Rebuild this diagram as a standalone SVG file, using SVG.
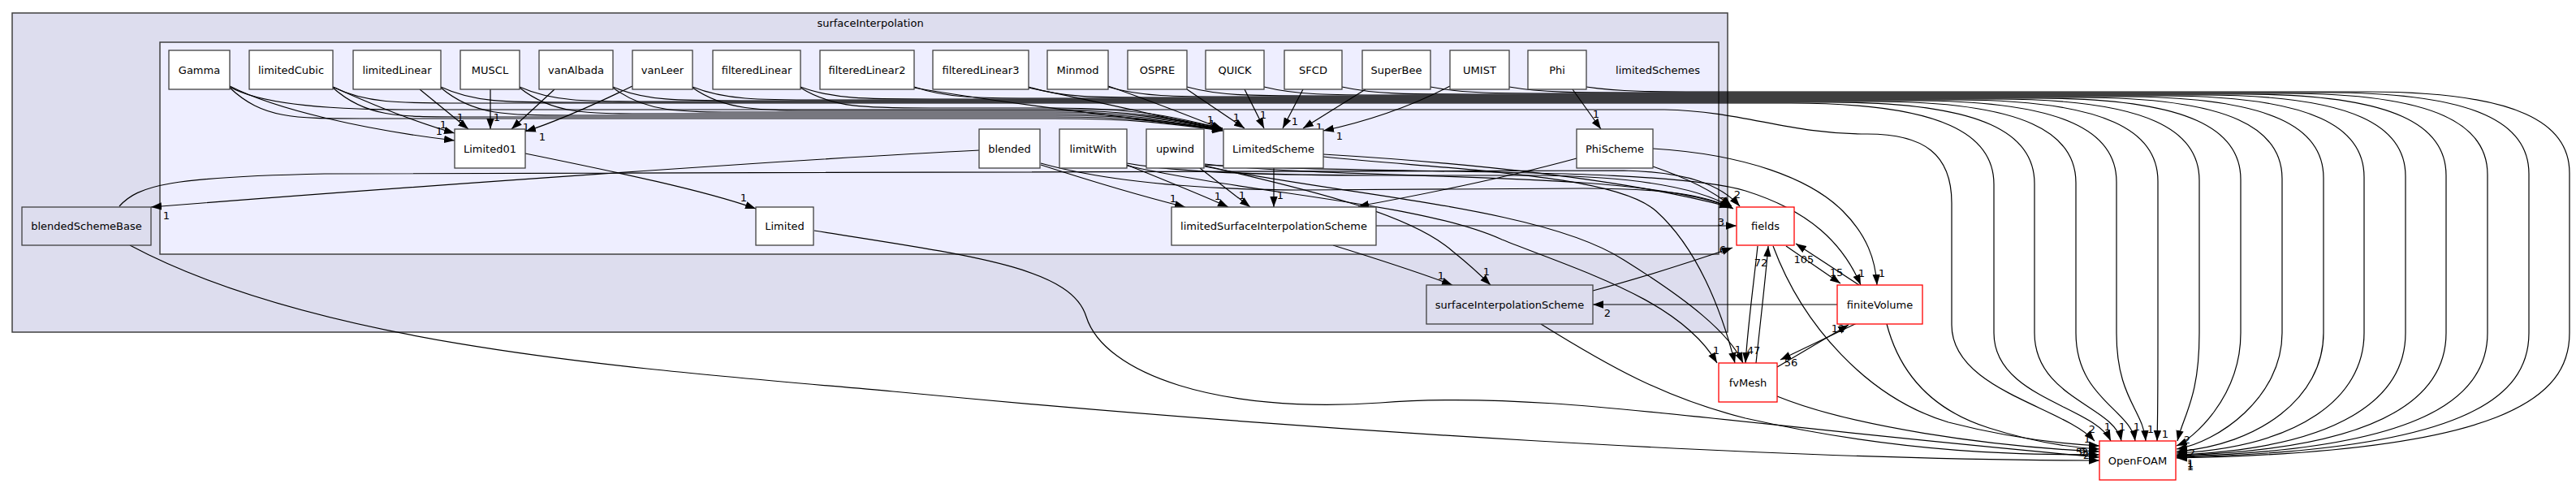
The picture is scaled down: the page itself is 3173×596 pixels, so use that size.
<svg xmlns="http://www.w3.org/2000/svg" width="3173" height="596" viewBox="0 0 3173 596">
<style>
text{font-family:"DejaVu Sans","Liberation Sans",sans-serif;font-size:13px;fill:#000;text-anchor:middle}
.n{fill:#fff;stroke:#404040;stroke-width:1.3}
.d{fill:#ddddee;stroke:#404040;stroke-width:1.3}
.x{fill:#fff;stroke:#ff0000;stroke-width:1.3}
.e path{fill:none;stroke:#000;stroke-width:1.2;marker-end:url(#a)}
</style>
<defs>
<marker id="a" markerWidth="13" markerHeight="10" refX="13" refY="5" orient="auto" markerUnits="userSpaceOnUse"><path d="M0,0.3 L13,5 L0,9.7z" fill="#000"/></marker>
</defs>
<rect width="3173" height="596" fill="#fff"/>
<g id="cluster_surfaceInterpolation">
<rect x="15" y="16" width="2113" height="393" fill="#ddddee" stroke="#404040" stroke-width="1.5"/>
<text x="1072" y="33">surfaceInterpolation</text>
</g>
<g id="cluster_limitedSchemes">
<rect x="197" y="52" width="1920" height="261" fill="#eeeeff" stroke="#404040" stroke-width="1.5"/>
<text x="2042" y="91">limitedSchemes</text>
</g>
<g class="e" id="connectors">
<path d="M283,106 C340,135 450,160 560,173"/>
<path d="M410,107 C450,125 510,150 560,164"/>
<path d="M517,110 L577,159"/>
<path d="M604,110 L604,159"/>
<path d="M683,110 L630,159"/>
<path d="M779,106 C740,125 690,148 647,162"/>
<path d="M283,108 C323,146 363,146 443,146 L1300,146 C1420,146 1470,157 1506,161"/>
<path d="M410,108 C450,144 490,144 570,144 L1300,144 C1420,144 1470,156 1506,160"/>
<path d="M543,108 C583,142 623,142 703,142 L1300,142 C1420,142 1470,155 1506,160"/>
<path d="M640,108 C680,140 720,140 800,140 L1300,140 C1420,140 1470,154 1506,159"/>
<path d="M755,108 C795,138 835,138 915,138 L1300,138 C1420,138 1470,153 1506,159"/>
<path d="M853,108 C893,136 933,136 1013,136 L1300,136 C1420,136 1470,152 1506,158"/>
<path d="M986,108 C1026,133 1066,133 1146,133 L1300,133 C1420,133 1470,151 1506,158"/>
<path d="M1126,108 C1250,130 1400,145 1506,160"/>
<path d="M1267,108 C1350,125 1440,145 1506,161"/>
<path d="M1365,106 C1420,125 1470,145 1506,159"/>
<path d="M1462,110 L1533,158"/>
<path d="M1533,110 L1557,158"/>
<path d="M1605,110 L1580,158"/>
<path d="M1682,110 L1605,158"/>
<path d="M1786,106 C1740,130 1690,148 1630,161"/>
<path d="M1937,110 L1972,159"/>
<path d="M283,107 C320,128 400,135 500,135 L2050,135 C2150,137 2200,165 2300,165 C2370,165 2404,190 2404,250 L2404,400 C2404,480 2540,500 2580,543"/>
<path d="M410,107 C450,127 490,127 570,127 L2206,127 C2396,127 2456,167 2456,227 L2456,410 C2456,490 2580,500 2600,543"/>
<path d="M543,107 C583,126 623,126 703,126 L2256,126 C2446,126 2506,166 2506,226 L2506,410 C2506,490 2605,500 2613,543"/>
<path d="M640,107 C680,125 720,125 800,125 L2307,125 C2497,125 2557,165 2557,225 L2557,410 C2557,490 2625,505 2630,543"/>
<path d="M755,107 C795,124 835,124 915,124 L2357,124 C2547,124 2607,164 2607,224 L2607,410 C2607,490 2640,505 2643,543"/>
<path d="M853,107 C893,123 933,123 1013,123 L2408,123 C2598,123 2658,163 2658,223 L2658,410 C2658,490 2658,510 2657,543"/>
<path d="M986,107 C1026,122 1066,122 1146,122 L2459,122 C2649,122 2709,162 2709,222 L2709,410 C2709,490 2690,510 2682,543"/>
<path d="M1126,107 C1166,121 1206,121 1286,121 L2510,121 C2700,121 2760,161 2760,221 L2760,410 C2760,490 2700,541 2681,549"/>
<path d="M1267,107 C1307,120 1347,120 1427,120 L2561,120 C2751,120 2811,160 2811,220 L2811,410 C2811,490 2731,545 2681,553"/>
<path d="M1365,107 C1405,119 1445,119 1525,119 L2612,119 C2802,119 2862,159 2862,219 L2862,410 C2862,490 2782,548 2681,556"/>
<path d="M1462,107 C1502,118 1542,118 1622,118 L2662,118 C2852,118 2912,158 2912,218 L2912,410 C2912,490 2832,550 2681,558"/>
<path d="M1557,107 C1597,117 1637,117 1717,117 L2713,117 C2903,117 2963,157 2963,217 L2963,410 C2963,490 2883,552 2681,560"/>
<path d="M1653,107 C1693,116 1733,116 1813,116 L2763,116 C2953,116 3013,156 3013,216 L3013,410 C3013,490 2933,553 2681,561"/>
<path d="M1762,107 C1802,115 1842,115 1922,115 L2814,115 C3004,115 3064,155 3064,215 L3064,410 C3064,490 2984,554 2681,562"/>
<path d="M1859,107 C1899,114 1939,114 2019,114 L2865,114 C3055,114 3115,154 3115,214 L3115,410 C3115,490 3035,555 2681,563"/>
<path d="M1954,107 C1994,113 2034,113 2114,113 L2915,113 C3105,113 3165,153 3165,213 L3165,410 C3165,490 3085,556 2681,564"/>
<path d="M647,189 C760,212 870,235 931,257"/>
<path d="M1207,185 C1000,195 500,230 186,255"/>
<path d="M1282,203 C1350,225 1420,245 1460,255"/>
<path d="M1282,201 C1350,220 1450,233 1600,234 L1950,232 C2050,232 2100,240 2132,256"/>
<path d="M1388,203 C1430,220 1480,240 1513,255"/>
<path d="M1388,201 C1450,212 1550,216 1700,216 L1900,216 C2030,218 2100,235 2134,256"/>
<path d="M1388,204 C1550,240 1750,250 1850,295 C1950,335 2070,370 2115,447"/>
<path d="M1478,207 L1540,255"/>
<path d="M1484,204 C1620,235 1740,265 1790,310 C1815,330 1830,345 1836,351"/>
<path d="M1484,202 C1600,215 1800,215 1950,225 C2050,232 2110,245 2135,257"/>
<path d="M1484,205 C1650,240 1900,255 2000,320 C2080,370 2130,410 2147,447"/>
<path d="M1484,203 C1700,215 2050,205 2150,235 C2230,260 2270,300 2292,351"/>
<path d="M1569,207 L1569,255"/>
<path d="M1630,190 C1800,200 2000,220 2131,255"/>
<path d="M1630,193 C1800,210 1990,215 2040,260 C2090,305 2120,380 2137,447"/>
<path d="M1942,195 C1850,220 1750,240 1673,254"/>
<path d="M2036,205 C2080,220 2110,235 2133,254"/>
<path d="M2036,183 C2150,190 2230,220 2270,260 C2300,290 2310,320 2312,351"/>
<path d="M1695,278 L2139,278"/>
<path d="M1642,302 C1700,320 1760,340 1789,351"/>
<path d="M1962,358 C2030,340 2090,320 2134,305"/>
<path d="M1898,399 C1980,450 2050,490 2150,515 C2350,560 2500,560 2586,560"/>
<path d="M2263,375 L1962,375"/>
<path d="M2200,303 L2267,349"/>
<path d="M2290,351 L2212,300"/>
<path d="M2189,452 L2277,400"/>
<path d="M2287,398 L2193,443"/>
<path d="M2165,303 C2160,350 2153,400 2150,447"/>
<path d="M2163,447 C2168,400 2175,340 2178,303"/>
<path d="M2184,303 C2220,400 2300,490 2400,520 C2470,538 2530,546 2586,549"/>
<path d="M2324,399 C2340,460 2380,505 2450,527 C2500,543 2550,551 2586,553"/>
<path d="M2189,488 C2280,525 2450,550 2586,556"/>
<path d="M1003,284 C1200,315 1320,330 1338,390 C1360,460 1500,510 1700,496 C1900,480 2100,520 2586,563"/>
<path d="M160,302 C400,430 800,455 1100,482 C1600,530 2200,567 2586,567"/>
<path d="M147,254 C170,228 210,218 400,214 L2000,210 C2080,212 2120,228 2143,254"/>
</g>
<g id="edge_labels">
<text x="541" y="166">1</text><text x="546" y="158">1</text><text x="567" y="149">1</text><text x="612" y="149">1</text><text x="648" y="161">1</text><text x="668" y="173">1</text>
<text x="1491" y="152">1</text><text x="1493" y="157">1</text><text x="1523" y="149">1</text><text x="1556" y="146">1</text><text x="1595" y="154">1</text><text x="1625" y="161">1</text><text x="1650" y="172">1</text>
<text x="1966" y="145">1</text>
<text x="916" y="248">1</text><text x="205" y="270">1</text>
<text x="1445" y="249">1</text><text x="1500" y="246">1</text><text x="1530" y="245">1</text><text x="1577" y="245">1</text><text x="1689" y="266">1</text>
<text x="2120" y="278">3</text><text x="1775" y="344">1</text><text x="1831" y="339">1</text><text x="2122" y="312">6</text><text x="1980" y="390">2</text>
<text x="2140" y="244">2</text><text x="2122" y="252">2</text><text x="2124" y="252">4</text>
<text x="2262" y="340">15</text><text x="2222" y="324">105</text><text x="2264" y="409">12</text><text x="2206" y="451">56</text>
<text x="2169" y="328">72</text><text x="2114" y="436">1</text><text x="2141" y="435">1</text><text x="2160" y="436">47</text>
<text x="2293" y="341">1</text><text x="2318" y="341">1</text>
<text x="2577" y="533">2</text><text x="2596" y="530">1</text><text x="2614" y="530">1</text><text x="2632" y="530">1</text><text x="2649" y="533">1</text><text x="2667" y="539">1</text><text x="2694" y="546">2</text>
<text x="2571" y="545">1</text><text x="2561" y="561">5</text><text x="2565" y="561">9</text><text x="2568" y="561">3</text><text x="2570" y="565">2</text>
<text x="2700" y="562">2</text><text x="2698" y="575">1</text><text x="2698" y="577">1</text><text x="2698" y="579">1</text>
</g>
<g id="node_Gamma"><rect class="n" x="208" y="62" width="75" height="48"/><text x="245.5" y="90.5">Gamma</text></g>
<g id="node_limitedCubic"><rect class="n" x="307" y="62" width="103" height="48"/><text x="358.5" y="90.5">limitedCubic</text></g>
<g id="node_limitedLinear"><rect class="n" x="435" y="62" width="108" height="48"/><text x="489" y="90.5">limitedLinear</text></g>
<g id="node_MUSCL"><rect class="n" x="567" y="62" width="73" height="48"/><text x="603.5" y="90.5">MUSCL</text></g>
<g id="node_vanAlbada"><rect class="n" x="664" y="62" width="91" height="48"/><text x="709.5" y="90.5">vanAlbada</text></g>
<g id="node_vanLeer"><rect class="n" x="779" y="62" width="74" height="48"/><text x="816" y="90.5">vanLeer</text></g>
<g id="node_filteredLinear"><rect class="n" x="878" y="62" width="108" height="48"/><text x="932" y="90.5">filteredLinear</text></g>
<g id="node_filteredLinear2"><rect class="n" x="1010" y="62" width="116" height="48"/><text x="1068" y="90.5">filteredLinear2</text></g>
<g id="node_filteredLinear3"><rect class="n" x="1149" y="62" width="118" height="48"/><text x="1208" y="90.5">filteredLinear3</text></g>
<g id="node_Minmod"><rect class="n" x="1290" y="62" width="75" height="48"/><text x="1327.5" y="90.5">Minmod</text></g>
<g id="node_OSPRE"><rect class="n" x="1389" y="62" width="73" height="48"/><text x="1425.5" y="90.5">OSPRE</text></g>
<g id="node_QUICK"><rect class="n" x="1485" y="62" width="72" height="48"/><text x="1521" y="90.5">QUICK</text></g>
<g id="node_SFCD"><rect class="n" x="1582" y="62" width="71" height="48"/><text x="1617.5" y="90.5">SFCD</text></g>
<g id="node_SuperBee"><rect class="n" x="1678" y="62" width="84" height="48"/><text x="1720" y="90.5">SuperBee</text></g>
<g id="node_UMIST"><rect class="n" x="1786" y="62" width="73" height="48"/><text x="1822.5" y="90.5">UMIST</text></g>
<g id="node_Phi"><rect class="n" x="1882" y="62" width="72" height="48"/><text x="1918" y="90.5">Phi</text></g>
<g id="node_Limited01"><rect class="n" x="560" y="159" width="87" height="48"/><text x="603.5" y="187.5">Limited01</text></g>
<g id="node_blended"><rect class="n" x="1206" y="159" width="75" height="48"/><text x="1243.5" y="187.5">blended</text></g>
<g id="node_limitWith"><rect class="n" x="1305" y="159" width="83" height="48"/><text x="1346.5" y="187.5">limitWith</text></g>
<g id="node_upwind"><rect class="n" x="1412" y="159" width="71" height="48"/><text x="1447.5" y="187.5">upwind</text></g>
<g id="node_LimitedScheme"><rect class="n" x="1507" y="159" width="123" height="48"/><text x="1568.5" y="187.5">LimitedScheme</text></g>
<g id="node_PhiScheme"><rect class="n" x="1942" y="159" width="94" height="48"/><text x="1989" y="187.5">PhiScheme</text></g>
<g id="node_blendedSchemeBase"><rect class="d" x="27" y="255" width="159" height="47"/><text x="106.5" y="283">blendedSchemeBase</text></g>
<g id="node_Limited"><rect class="n" x="931" y="255" width="71" height="47"/><text x="966.5" y="283">Limited</text></g>
<g id="node_limitedSurfaceInterpolationScheme"><rect class="n" x="1443" y="255" width="252" height="47"/><text x="1569" y="283">limitedSurfaceInterpolationScheme</text></g>
<g id="node_fields"><rect class="x" x="2139" y="255" width="71" height="47"/><text x="2174.5" y="283">fields</text></g>
<g id="node_surfaceInterpolationScheme"><rect class="d" x="1757" y="351" width="205" height="48"/><text x="1859.5" y="379.5">surfaceInterpolationScheme</text></g>
<g id="node_finiteVolume"><rect class="x" x="2263" y="351" width="105" height="48"/><text x="2315.5" y="379.5">finiteVolume</text></g>
<g id="node_fvMesh"><rect class="x" x="2117" y="447" width="72" height="48"/><text x="2153" y="475.5">fvMesh</text></g>
<g id="node_OpenFOAM"><rect class="x" x="2586" y="543" width="94" height="48"/><text x="2633" y="571.5">OpenFOAM</text></g>
</svg>
